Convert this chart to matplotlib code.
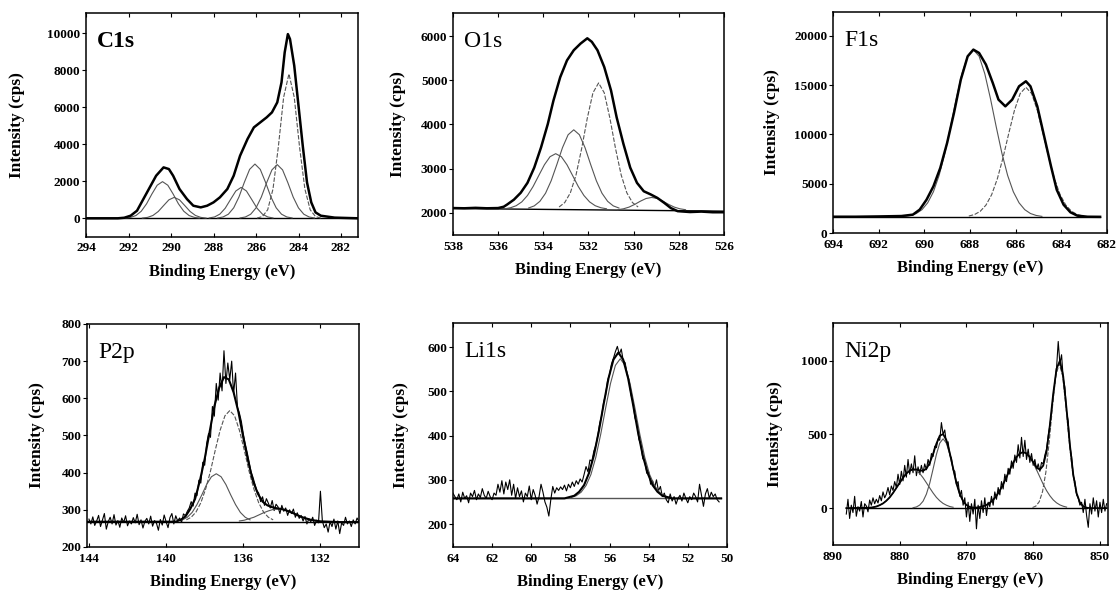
import numpy as np
import matplotlib
matplotlib.use('Agg')
import matplotlib.pyplot as plt

plt.rcParams['font.family'] = ['Liberation Serif', 'DejaVu Serif']

# ---------------- C1s ----------------
c1s_env_x = [294.0, 292.5, 292.2, 291.9, 291.6, 291.3, 291.0, 290.7, 290.35, 290.1, 289.9, 289.6, 289.25, 288.95,
             288.6, 288.3, 288.0, 287.7, 287.35, 287.05, 286.75, 286.4, 286.1, 285.8, 285.5, 285.25, 285.0, 284.8,
             284.65, 284.5, 284.4, 284.2, 284.0, 283.8, 283.6, 283.4, 283.2, 282.95, 282.3, 281.2]
c1s_env_y = [0, 0, 30, 140, 410, 1040, 1670, 2300, 2750, 2660, 2300, 1580, 1040, 680,
             590, 680, 860, 1130, 1580, 2300, 3380, 4280, 4910, 5180, 5450, 5720, 6260, 7340,
             8960, 9950, 9680, 8240, 6080, 3920, 1940, 860, 320, 140, 36, 0]
c1s_a_x = [292.15, 291.9, 291.65, 291.4, 291.15, 290.9, 290.65, 290.4, 290.15, 289.9, 289.65, 289.4, 289.15, 288.9, 288.65]
c1s_a_y = [13, 49, 150, 382, 782, 1311, 1786, 1980, 1786, 1311, 782, 382, 150, 49, 13]
c1s_b_x = [291.35, 291.1, 290.85, 290.6, 290.35, 290.1, 289.85, 289.6, 289.35, 289.1, 288.85, 288.6, 288.35]
c1s_b_y = [13, 50, 153, 367, 685, 997, 1130, 997, 685, 367, 153, 50, 13]
c1s_c_x = [288.2, 287.95, 287.7, 287.45, 287.2, 286.95, 286.7, 286.45, 286.2, 285.95, 285.7, 285.45, 285.2]
c1s_c_y = [19, 73, 226, 542, 1013, 1474, 1670, 1474, 1013, 542, 226, 73, 19]
c1s_d_x = [287.8, 287.55, 287.3, 287.05, 286.8, 286.55, 286.3, 286.05, 285.8, 285.55, 285.3, 285.05, 284.8, 284.55, 284.3]
c1s_d_y = [19, 72, 222, 565, 1157, 1940, 2643, 2930, 2643, 1940, 1157, 565, 222, 72, 19]
c1s_e_x = [286.75, 286.5, 286.25, 286.0, 285.75, 285.5, 285.25, 285.0, 284.75, 284.5, 284.25, 284.0, 283.75, 283.5, 283.25]
c1s_e_y = [19, 71, 220, 560, 1146, 1920, 2616, 2900, 2616, 1920, 1146, 560, 220, 71, 19]
c1s_f_x = [285.95, 285.7, 285.45, 285.2, 284.95, 284.7, 284.45, 284.2, 283.95, 283.7, 283.45, 283.2, 282.95]
c1s_f_y = [13, 94, 460, 1583, 3845, 6536, 7800, 6536, 3845, 1583, 460, 94, 13]
c1s_base_x = [294.0, 281.2]
c1s_base_y = [0, 0]

# ---------------- O1s ----------------
o1s_env_x = [538.0, 537.5, 537.0, 536.5, 536.0, 535.75, 535.6, 535.3, 535.0, 534.7, 534.4, 534.1, 533.8, 533.55,
             533.25, 532.95, 532.65, 532.35, 532.05, 531.85, 531.6, 531.3, 531.0, 530.75, 530.45, 530.15, 529.85,
             529.55, 529.25, 528.95, 528.65, 528.35, 528.05, 527.5, 527.0, 526.5, 526.0]
o1s_env_y = [2110, 2105, 2115, 2105, 2110, 2140, 2190, 2300, 2455, 2680, 3025, 3480, 4010, 4540,
             5070, 5450, 5680, 5830, 5950, 5870, 5680, 5300, 4770, 4160, 3560, 3025, 2680,
             2490, 2420, 2340, 2230, 2110, 2040, 2020, 2030, 2015, 2015]
o1s_a_x = [535.7, 535.45, 535.2, 534.95, 534.7, 534.45, 534.2, 533.95, 533.7, 533.45, 533.2, 532.95, 532.7, 532.45,
           532.2, 531.95, 531.7, 531.45, 531.2]
o1s_a_y = [2094, 2117, 2163, 2250, 2394, 2598, 2845, 3089, 3272, 3340, 3272, 3089, 2845, 2598,
           2394, 2250, 2163, 2117, 2094]
o1s_b_x = [534.65, 534.4, 534.15, 533.9, 533.65, 533.4, 533.15, 532.9, 532.65, 532.4, 532.15, 531.9, 531.65, 531.4,
           531.15, 530.9, 530.65]
o1s_b_y = [2111, 2159, 2262, 2445, 2728, 3093, 3475, 3768, 3880, 3768, 3475, 3093, 2728, 2445,
           2262, 2159, 2111]
o1s_c_x = [533.3, 533.05, 532.8, 532.55, 532.3, 532.05, 531.8, 531.55, 531.3, 531.05, 530.8, 530.55, 530.3, 530.05, 529.8]
o1s_c_y = [2134, 2234, 2455, 2858, 3456, 4145, 4717, 4940, 4717, 4145, 3456, 2858, 2455, 2234, 2134]
o1s_d_x = [530.7, 530.45, 530.2, 529.95, 529.7, 529.45, 529.2, 528.95, 528.7, 528.45, 528.2, 527.95, 527.7]
o1s_d_y = [2073, 2093, 2132, 2193, 2265, 2326, 2350, 2326, 2265, 2193, 2132, 2093, 2073]
o1s_base_x = [538.0, 526.0]
o1s_base_y = [2100, 2040]

# ---------------- F1s ----------------
f1s_env_x = [694.0, 693.0, 692.0, 691.0, 690.5, 690.2, 689.9, 689.6, 689.3, 689.0, 688.7, 688.4, 688.1, 687.85,
             687.6, 687.3, 687.0, 686.75, 686.45, 686.15, 685.85, 685.55, 685.35, 685.05, 684.75, 684.45, 684.2,
             683.9, 683.6, 683.3, 682.85, 682.3]
f1s_env_y = [1650, 1650, 1680, 1720, 1860, 2370, 3380, 4730, 6590, 9130, 12170, 15550, 17910, 18590,
             18250, 17070, 15210, 13520, 12840, 13520, 14870, 15380, 14870, 12840, 9800, 6760, 4390,
             2870, 2100, 1760, 1650, 1640]
f1s_a_x = [690.85, 690.6, 690.35, 690.1, 689.85, 689.6, 689.35, 689.1, 688.85, 688.6, 688.35, 688.1, 687.85,
           687.6, 687.35, 687.1, 686.85, 686.6, 686.35, 686.1, 685.85, 685.6, 685.35, 685.1, 684.85]
f1s_a_y = [1684, 1779, 1976, 2366, 3061, 4179, 5841, 8078, 10773, 13604, 16146, 17926, 18570,
           17926, 16146, 13604, 10773, 8078, 5841, 4179, 3061, 2366, 1976, 1779, 1684]
f1s_b_x = [688.05, 687.8, 687.55, 687.3, 687.05, 686.8, 686.55, 686.3, 686.05, 685.8, 685.55, 685.3, 685.05,
           684.8, 684.55, 684.3, 684.05, 683.8, 683.55, 683.3, 683.05]
f1s_b_y = [1720, 1870, 2199, 2823, 3882, 5499, 7643, 10102, 12442, 14139, 14770, 14139, 12442,
           10102, 7643, 5499, 3882, 2823, 2199, 1870, 1720]
f1s_base_x = [694.0, 682.3]
f1s_base_y = [1620, 1620]

# ---------------- P2p ----------------
p2p_raw_range = (144.0, 130.0)
p2p_raw_y = [275, 262, 281, 258, 270, 285, 255, 272, 290, 248,
             268, 280, 262, 287, 259, 271, 253, 278, 266, 284,
             257, 270, 262, 279, 265, 288, 260, 273, 251, 269,
             277, 262, 283, 256, 271, 264, 245, 274, 259, 286,
             268, 252, 279, 290, 262, 284, 270, 278, 266, 289,
             284, 296, 305, 322, 310, 345, 338, 380, 372, 428,
             420, 478, 505, 495, 578, 552, 640, 595, 668, 620,
             728, 640, 695, 650, 700, 612, 668, 575, 560, 538,
             505, 478, 455, 430, 402, 388, 370, 352, 345, 322,
             335, 312, 330, 318, 305, 325, 298, 315, 308, 290,
             312, 296, 305, 285, 300, 290, 302, 280, 292, 277,
             285, 270, 282, 262, 276, 268, 280, 258, 272, 265,
             350, 270, 252, 262, 240, 268, 255, 275, 248, 270,
             236, 265, 258, 280, 262, 270, 255, 273, 262, 278,
             268]
p2p_fit_x = [144.1, 139.5, 139.25, 139.0, 138.75, 138.5, 138.25, 138.0, 137.75, 137.5, 137.25, 137.0, 136.75,
             136.5, 136.25, 136.0, 135.75, 135.5, 135.25, 135.0, 134.75, 134.5, 134.25, 134.0, 133.75, 133.5,
             133.25, 133.0, 132.5, 132.0, 131.0, 130.0]
p2p_fit_y = [268, 268, 273, 282, 302, 329, 378, 437, 508, 578, 628, 657, 651,
             616, 563, 495, 432, 378, 344, 322, 312, 307, 304, 302, 298, 293,
             287, 281, 273, 269, 267, 267]
p2p_a_x = [138.95, 138.7, 138.45, 138.2, 137.95, 137.7, 137.45, 137.2, 136.95, 136.7, 136.45, 136.2, 135.95,
           135.7, 135.45, 135.2, 134.95, 134.7, 134.45]
p2p_a_y = [273, 280, 294, 319, 356, 404, 461, 514, 553, 567, 553, 514, 461, 404, 356, 319, 294, 280, 273]
p2p_b_x = [139.15, 138.9, 138.65, 138.4, 138.15, 137.9, 137.65, 137.4, 137.15, 136.9, 136.65, 136.4, 136.15, 135.9, 135.65]
p2p_b_y = [273, 280, 293, 314, 340, 368, 389, 397, 389, 368, 340, 314, 293, 280, 273]
p2p_c_x = [136.2, 135.95, 135.7, 135.45, 135.2, 134.95, 134.7, 134.45, 134.2, 133.95, 133.7, 133.45, 133.2,
           132.95, 132.7, 132.45, 132.2]
p2p_c_y = [270, 272, 276, 280, 286, 292, 297, 301, 302, 301, 297, 292, 286, 280, 276, 272, 270]
p2p_base_x = [144.1, 130.0]
p2p_base_y = [267, 267]

# ---------------- Li1s ----------------
li1s_raw_range = (64.0, 50.4)
li1s_raw_y = [270, 262, 255, 268, 250, 272, 258, 264, 248, 270,
              262, 276, 255, 268, 260, 280, 265, 258, 274, 262,
              255, 270, 265, 290, 272, 298, 268, 295, 278, 300,
              265, 290, 258, 282, 262, 275, 250, 270, 262, 286,
              255, 278, 265, 245, 262, 290, 272, 250, 238, 218,
              255, 285, 270, 282, 276, 284, 278, 288, 275, 290,
              282, 295, 285, 298, 290, 302, 295, 312, 330, 318,
              345, 342, 365, 378, 400, 428, 445, 476, 492, 525,
              538, 562, 575, 590, 602, 584, 596, 570, 565, 538,
              525, 492, 476, 440, 428, 392, 380, 348, 342, 315,
              318, 290, 298, 282, 300, 275, 285, 262, 270, 255,
              248, 268, 252, 262, 245, 258, 265, 252, 270, 258,
              248, 262, 255, 270, 262, 250, 290, 265, 240, 268,
              280, 258, 272, 262, 268, 255, 250]
li1s_fit_x = [64.0, 58.3, 58.05, 57.8, 57.55, 57.3, 57.05, 56.8, 56.55, 56.3, 56.05, 55.8, 55.55, 55.3, 55.05,
              54.8, 54.55, 54.3, 54.05, 53.8, 53.55, 53.3, 53.05, 52.8, 50.3]
li1s_fit_y = [258, 258, 261, 264, 273, 288, 315, 355, 409, 471, 530, 572, 588, 572, 530,
              471, 409, 355, 315, 288, 273, 264, 261, 258, 258]
li1s_a_x = [57.95, 57.7, 57.45, 57.2, 56.95, 56.7, 56.45, 56.2, 55.95, 55.7, 55.45, 55.2, 54.95, 54.7, 54.45,
            54.2, 53.95, 53.7, 53.45, 53.2, 52.95]
li1s_a_y = [260, 264, 272, 287, 312, 351, 403, 462, 518, 559, 574, 559, 518, 462, 403,
            351, 312, 287, 272, 264, 260]
li1s_base_x = [64.0, 50.3]
li1s_base_y = [258, 258]

# ---------------- Ni2p ----------------
ni2p_raw_range = (888.0, 849.0)
ni2p_raw_y = [-40, 60, -70, 20, -30, 80, -55, 10,
              -20, 45, -60, 30, 15, -25, 55, 20,
              70, 30, 60, 35, 85, 50, 110, 70,
              95, 140, 90, 150, 120, 180, 140, 230,
              160, 250, 185, 290, 210, 330, 230, 300,
              240, 355, 220, 280, 230, 290, 240, 300,
              260, 330, 290, 370, 350, 420, 410, 470,
              460, 580, 500, 530, 440, 450, 360, 340,
              260, 250, 160, 180, 80, 120, 20, 70,
              -60, 40, -90, 30, -40, 60, -140, 20,
              -70, 50, -30, 70, -50, 40, 10, 80,
              20, 110, 60, 140, 90, 180, 130, 230,
              180, 270, 230, 320, 270, 360, 310, 430,
              340, 480, 350, 460, 330, 400, 310, 370,
              290, 330, 260, 300, 250, 310, 300, 360,
              400, 490, 560, 650, 760, 850, 950, 1130,
              980, 1040, 880, 820, 650, 590, 420, 350,
              220, 180, 90, 70, 20, 40, -30, 60,
              -50, -130, 30, -40, 70, -20, 50, -60,
              40, -30, 60, -20, 30]
ni2p_fit_x = [888.0, 884.5, 884.0, 883.5, 883.0, 882.5, 882.0, 881.5, 881.0, 880.5, 880.0, 879.5, 879.0, 878.5,
              878.0, 877.5, 877.0, 876.5, 876.0, 875.5, 875.0, 874.5, 874.0, 873.5, 873.0, 872.5, 872.0, 871.5,
              871.0, 870.5, 870.0, 869.5, 869.0, 868.5, 868.0, 867.5, 867.0, 866.5, 866.0, 865.5, 865.0, 864.5,
              864.0, 863.5, 863.0, 862.5, 862.0, 861.5, 861.0, 860.5, 860.0, 859.5, 859.0, 858.5, 858.0, 857.5,
              857.0, 856.5, 856.0, 855.5, 855.0, 854.5, 854.0, 853.5, 853.0, 852.5, 852.0, 851.5, 849.0]
ni2p_fit_y = [0, 3, 6, 11, 20, 32, 50, 73, 103, 137, 172, 206, 235, 254,
              263, 262, 256, 253, 267, 306, 368, 437, 491, 502, 461, 375, 271, 169,
              96, 47, 21, 8, 3, 4, 7, 13, 22, 36, 56, 84, 119, 162,
              211, 260, 307, 346, 371, 380, 371, 346, 312, 276, 261, 288, 384, 564,
              776, 946, 999, 893, 672, 428, 228, 102, 38, 12, 3, 0, 0]
ni2p_a_x = [884.0, 883.5, 883.0, 882.5, 882.0, 881.5, 881.0, 880.5, 880.0, 879.5, 879.0, 878.5, 878.0,
            877.5, 877.0, 876.5, 876.0, 875.5, 875.0, 874.5, 874.0, 873.5, 873.0, 872.5, 872.0]
ni2p_a_y = [6, 11, 20, 32, 50, 73, 103, 137, 172, 206, 235, 254, 260,
            254, 235, 206, 172, 137, 103, 73, 50, 32, 20, 11, 6]
ni2p_b_x = [878.0, 877.5, 877.0, 876.5, 876.0, 875.5, 875.0, 874.5, 874.0, 873.5, 873.0, 872.5, 872.0,
            871.5, 871.0, 870.5, 870.0, 869.5, 869.0]
ni2p_b_y = [3, 8, 21, 47, 95, 169, 265, 364, 441, 470, 441, 364, 265, 169, 95, 47, 21, 8, 3]
ni2p_c_x = [868.0, 867.5, 867.0, 866.5, 866.0, 865.5, 865.0, 864.5, 864.0, 863.5, 863.0, 862.5, 862.0, 861.5,
            861.0, 860.5, 860.0, 859.5, 859.0, 858.5, 858.0, 857.5, 857.0, 856.5, 856.0, 855.5, 855.0]
ni2p_c_y = [7, 13, 22, 36, 56, 84, 119, 162, 211, 260, 307, 346, 371, 380,
            371, 346, 307, 260, 211, 162, 119, 84, 56, 36, 22, 13, 7]
ni2p_d_x = [860.1, 859.6, 859.1, 858.6, 858.1, 857.6, 857.1, 856.6, 856.1, 855.6, 855.1, 854.6, 854.1,
            853.6, 853.1, 852.6, 852.1]
ni2p_d_y = [4, 14, 43, 112, 244, 449, 692, 899, 980, 899, 692, 449, 244, 112, 43, 14, 4]
ni2p_base_x = [887.5, 852.0]
ni2p_base_y = [0, 0]


fig = plt.figure(figsize=(11.17, 5.95), dpi=100)

comp_kw = dict(color='#555555', lw=0.8)
dash_kw = dict(color='#555555', lw=0.8, ls=(0, (4, 1.5)))
env_kw = dict(color='black', lw=1.8)
raw_kw = dict(color='black', lw=0.8)


def setup(rect, xlim, ylim, xticks, yticks, name, bold=False, ypad=14):
    ax = fig.add_axes(rect)
    ax.set_xlim(xlim)
    ax.set_ylim(ylim)
    ax.set_xticks(xticks)
    ax.set_yticks(yticks)
    ax.set_xlabel('Binding Energy (eV)', fontsize=12, fontweight='bold', labelpad=7)
    ax.set_ylabel('Intensity (cps)', fontsize=12.5, fontweight='bold', labelpad=ypad)
    ax.tick_params(axis='y', direction='out', length=3, labelsize=9.5, pad=1)
    ax.tick_params(axis='x', direction='in', length=3, labelsize=9.5, pad=4, top=True)
    for lbl in ax.get_xticklabels() + ax.get_yticklabels():
        lbl.set_fontweight('bold')
    for sp in ax.spines.values():
        sp.set_linewidth(1.1)
    ax.text(0.04, 0.92, name, transform=ax.transAxes, fontsize=17, va='top', ha='left',
            fontweight='bold' if bold else 'normal')
    return ax


# C1s
ax = setup([0.077, 0.602, 0.2435, 0.3765], (294, 281.2), (-1000, 11100),
           [294, 292, 290, 288, 286, 284, 282], [0, 2000, 4000, 6000, 8000, 10000], 'C1s', bold=True, ypad=16)
ax.plot(c1s_base_x, c1s_base_y, color='black', lw=1.0)
for cx, cy in [(c1s_a_x, c1s_a_y), (c1s_b_x, c1s_b_y), (c1s_c_x, c1s_c_y), (c1s_d_x, c1s_d_y), (c1s_e_x, c1s_e_y)]:
    ax.plot(cx, cy, **comp_kw)
ax.plot(c1s_f_x, c1s_f_y, **dash_kw)
ax.plot(c1s_env_x, c1s_env_y, **env_kw)

# O1s
ax = setup([0.4055, 0.605, 0.2426, 0.373], (538, 526), (1500, 6520),
           [538, 536, 534, 532, 530, 528, 526], [2000, 3000, 4000, 5000, 6000], 'O1s', ypad=11)
ax.plot(o1s_base_x, o1s_base_y, color='black', lw=1.0)
ax.plot(o1s_a_x, o1s_a_y, **comp_kw)
ax.plot(o1s_b_x, o1s_b_y, **comp_kw)
ax.plot(o1s_c_x, o1s_c_y, **dash_kw)
ax.plot(o1s_d_x, o1s_d_y, **comp_kw)
ax.plot(o1s_env_x, o1s_env_y, **env_kw)

# F1s
ax = setup([0.7457, 0.6084, 0.2453, 0.3714], (694, 682), (0, 22400),
           [694, 692, 690, 688, 686, 684, 682], [0, 5000, 10000, 15000, 20000], 'F1s', ypad=10)
ax.plot(f1s_base_x, f1s_base_y, color='black', lw=1.0)
ax.plot(f1s_a_x, f1s_a_y, **comp_kw)
ax.plot(f1s_b_x, f1s_b_y, **dash_kw)
ax.plot(f1s_env_x, f1s_env_y, **env_kw)

# P2p
ax = setup([0.0779, 0.0807, 0.2435, 0.3748], (144.1, 130), (200, 800),
           [144, 140, 136, 132], [200, 300, 400, 500, 600, 700, 800], 'P2p', ypad=12)
ax.plot(p2p_base_x, p2p_base_y, color='black', lw=1.0)
ax.plot(np.linspace(*p2p_raw_range, len(p2p_raw_y)), p2p_raw_y, **raw_kw)
ax.plot(p2p_a_x, p2p_a_y, **dash_kw)
ax.plot(p2p_b_x, p2p_b_y, **comp_kw)
ax.plot(p2p_c_x, p2p_c_y, **comp_kw)
ax.plot(p2p_fit_x, p2p_fit_y, color='black', lw=1.5)

# Li1s
ax = setup([0.4055, 0.0807, 0.2453, 0.3765], (64, 50), (148, 655),
           [64, 62, 60, 58, 56, 54, 52, 50], [200, 300, 400, 500, 600], 'Li1s', ypad=13)
ax.plot(li1s_base_x, li1s_base_y, color='#555555', lw=1.0)
ax.plot(np.linspace(*li1s_raw_range, len(li1s_raw_y)), li1s_raw_y, **raw_kw)
ax.plot(li1s_a_x, li1s_a_y, **comp_kw)
ax.plot(li1s_fit_x, li1s_fit_y, color='black', lw=1.5)

# Ni2p
ax = setup([0.7457, 0.084, 0.2462, 0.3731], (890, 848.8), (-250, 1255),
           [890, 880, 870, 860, 850], [0, 500, 1000], 'Ni2p', ypad=13)
ax.plot(ni2p_base_x, ni2p_base_y, color='black', lw=1.0)
ax.plot(np.linspace(*ni2p_raw_range, len(ni2p_raw_y)), ni2p_raw_y, **raw_kw)
ax.plot(ni2p_a_x, ni2p_a_y, **comp_kw)
ax.plot(ni2p_b_x, ni2p_b_y, **comp_kw)
ax.plot(ni2p_c_x, ni2p_c_y, **comp_kw)
ax.plot(ni2p_d_x, ni2p_d_y, **dash_kw)
ax.plot(ni2p_fit_x, ni2p_fit_y, color='black', lw=1.3)

fig.savefig('out.png', dpi=100)
